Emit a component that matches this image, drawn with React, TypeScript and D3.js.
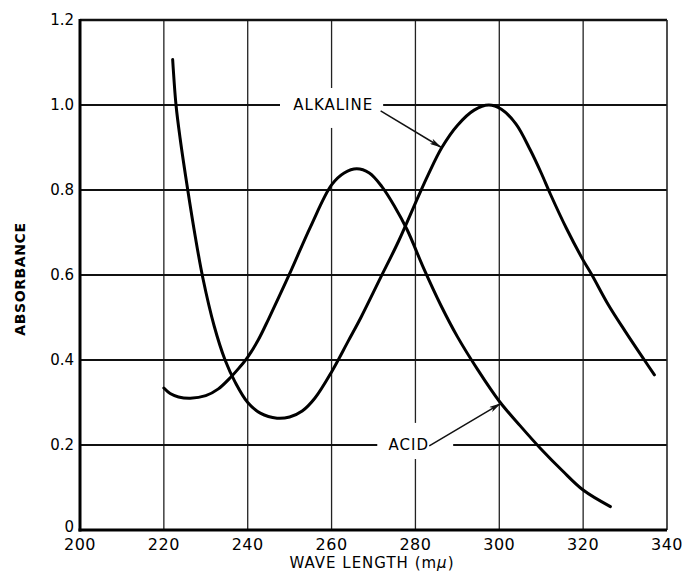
import React from "react";
import * as d3 from "d3";

const width = 682;
const height = 572;
const margin = { top: 20, right: 15, bottom: 42, left: 80 };

// wavelength (m\u03bc) / absorbance
const acidWave = [220, 221.5, 223.5, 226.3, 230, 233, 236, 238, 240, 242.5, 245, 250, 255, 260, 263, 266, 269, 272, 275, 278, 282, 286, 290, 295, 300, 305, 310, 315, 320, 326.5];
const acidAbs = [0.334, 0.321, 0.313, 0.31, 0.316, 0.332, 0.36, 0.382, 0.407, 0.447, 0.497, 0.603, 0.714, 0.812, 0.84, 0.85, 0.84, 0.808, 0.762, 0.707, 0.615, 0.53, 0.455, 0.375, 0.303, 0.245, 0.19, 0.14, 0.094, 0.055];

const alkWave = [222.1, 222.9, 223.9, 225.7, 227.5, 229.3, 232, 234.6, 237, 240, 243, 247, 250, 253, 256, 260, 264, 267, 271.6, 276, 280.7, 283, 286.3, 290, 294, 297.5, 300.5, 304, 307.4, 310, 312.2, 316, 320, 322.1, 326, 330, 334.8, 337];
const alkAbs = [1.107, 1.0, 0.92, 0.8, 0.69, 0.593, 0.48, 0.4, 0.348, 0.3, 0.275, 0.263, 0.266, 0.28, 0.31, 0.372, 0.445, 0.5, 0.592, 0.68, 0.785, 0.835, 0.9, 0.952, 0.988, 1.0, 0.99, 0.955, 0.894, 0.84, 0.79, 0.71, 0.635, 0.6, 0.53, 0.468, 0.397, 0.365];

const xTicks = [200, 220, 240, 260, 280, 300, 320, 340];
const yTicks = [0, 0.2, 0.4, 0.6, 0.8, 1.0, 1.2];
const yTickLabels = ["0", "0.2", "0.4", "0.6", "0.8", "1.0", "1.2"];

// annotations: label centre, blank box behind it, arrow start, arrow tip (data units)
const labels = [
  { text: "ALKALINE", x: 260.4, y: 1.0, box: [247.7, 272.3, 0.946, 1.04], from: [271.7, 0.986], to: [286.2, 0.9] },
  { text: "ACID", x: 278.4, y: 0.2, box: [270.9, 289.0, 0.167, 0.252], from: [283.3, 0.198], to: [300.4, 0.298] },
];

const font = "'DejaVu Sans', Verdana, sans-serif";

export default function App() {
  const x = d3.scaleLinear().domain([200, 340]).range([margin.left, width - margin.right]);
  const y = d3.scaleLinear().domain([0, 1.2]).range([height - margin.bottom, margin.top]);

  const line = d3
    .line<[number, number]>()
    .x((d) => x(d[0]))
    .y((d) => y(d[1]))
    .curve(d3.curveCatmullRom.alpha(0.5));

  const acid = acidWave.map((w, i) => [w, acidAbs[i]] as [number, number]);
  const alk = alkWave.map((w, i) => [w, alkAbs[i]] as [number, number]);

  const x0 = x(200), x1 = x(340), y0 = y(0), y1 = y(1.2);

  return (
    <svg
      width={width}
      height={height}
      style={{ position: "absolute", left: 0, top: 0, background: "#fff" }}
      fontFamily={font}
    >
      <defs>
        <marker id="head" viewBox="0 0 12 6" refX="12" refY="3" markerWidth="12" markerHeight="6" markerUnits="userSpaceOnUse" orient="auto">
          <path d="M0,0 L12,3 L0,6 L3,3 Z" fill="#111" />
        </marker>
      </defs>

      {/* grid */}
      {xTicks.slice(1, -1).map((t) => (
        <line key={"gx" + t} x1={x(t)} x2={x(t)} y1={y1} y2={y0} stroke="#222" strokeWidth={1.3} />
      ))}
      {yTicks.slice(1, -1).map((t) => (
        <line key={"gy" + t} x1={x0} x2={x1} y1={y(t)} y2={y(t)} stroke="#111" strokeWidth={1.8} />
      ))}

      {/* frame */}
      <line x1={x0} x2={x1} y1={y1} y2={y1} stroke="#111" strokeWidth={2.4} />
      <line x1={x1} x2={x1} y1={y1} y2={y0} stroke="#222" strokeWidth={1.6} />
      <line x1={x0} x2={x0} y1={y1 - 1} y2={y0 + 1.5} stroke="#000" strokeWidth={3} />
      <line x1={x0 - 1.5} x2={x1} y1={y0} y2={y0} stroke="#000" strokeWidth={3} />

      {/* label knock-outs */}
      {labels.map((l) => (
        <rect
          key={"bg" + l.text}
          x={x(l.box[0])}
          y={y(l.box[3])}
          width={x(l.box[1]) - x(l.box[0])}
          height={y(l.box[2]) - y(l.box[3])}
          fill="#fff"
        />
      ))}

      {/* curves */}
      <path d={line(acid) || ""} fill="none" stroke="#000" strokeWidth={3} strokeLinecap="round" />
      <path d={line(alk) || ""} fill="none" stroke="#000" strokeWidth={3} strokeLinecap="round" />

      {/* annotations */}
      {labels.map((l) => (
        <g key={l.text}>
          <text x={x(l.x)} y={y(l.y)} dy="0.36em" textAnchor="middle" fontSize={15} letterSpacing={1} fill="#000">
            {l.text}
          </text>
          <line
            x1={x(l.from[0])}
            y1={y(l.from[1])}
            x2={x(l.to[0])}
            y2={y(l.to[1])}
            stroke="#111"
            strokeWidth={1.5}
            markerEnd="url(#head)"
          />
        </g>
      ))}

      {/* tick labels */}
      {yTicks.map((t, i) => (
        <text key={"ty" + t} x={x0 - 6} y={y(t) - (t === 0 ? 3 : 0)} dy="0.36em" textAnchor="end" fontSize={15} fill="#000">
          {yTickLabels[i]}
        </text>
      ))}
      {xTicks.map((t) => (
        <text key={"tx" + t} x={x(t)} y={y0 + 20} textAnchor="middle" fontSize={16} letterSpacing={0.5} fill="#000">
          {t}
        </text>
      ))}

      {/* axis titles */}
      <text x={372} y={height - 4} textAnchor="middle" fontSize={15} letterSpacing={1} fill="#000">
        WAVE LENGTH (m<tspan fontStyle="italic">μ</tspan>)
      </text>
      <text
        transform={`translate(25,${y(0.6) + 4}) rotate(-90)`}
        textAnchor="middle"
        fontSize={14}
        fontWeight="bold"
        letterSpacing={0.6}
        fill="#000"
      >
        ABSORBANCE
      </text>
    </svg>
  );
}
